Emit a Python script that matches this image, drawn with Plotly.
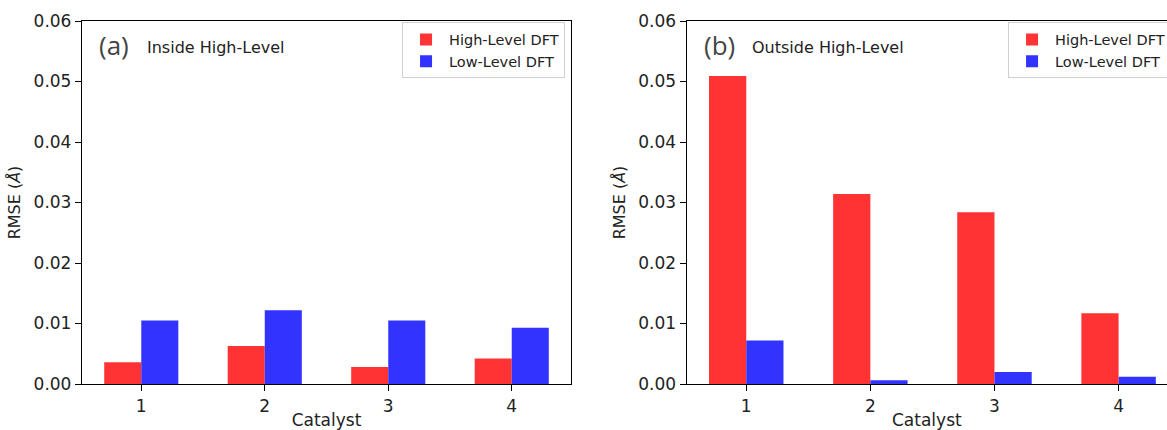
import plotly.graph_objects as go

catalysts = [1, 2, 3, 4]
inside_high = [0.0036, 0.0063, 0.0028, 0.0042]
inside_low = [0.0105, 0.0122, 0.0105, 0.0093]
outside_high = [0.0509, 0.0314, 0.0284, 0.0117]
outside_low = [0.0072, 0.0006, 0.0020, 0.0012]
series_names = ["High-Level DFT", "Low-Level DFT"]
y_ticks = [0.00, 0.01, 0.02, 0.03, 0.04, 0.05, 0.06]

RED = "rgb(255,51,51)"
BLUE = "rgb(51,51,255)"
FONT = "DejaVu Sans"

fig = go.Figure()
for vals, name, col, og in [(inside_high, series_names[0], RED, "h"),
                            (inside_low, series_names[1], BLUE, "l")]:
    fig.add_trace(go.Bar(x=catalysts, y=vals, name=name, marker_color=col,
                         marker_line_width=0, offsetgroup=og,
                         xaxis="x", yaxis="y", legend="legend"))
for vals, name, col, og in [(outside_high, series_names[0], RED, "h"),
                            (outside_low, series_names[1], BLUE, "l")]:
    fig.add_trace(go.Bar(x=catalysts, y=vals, name=name, marker_color=col,
                         marker_line_width=0, offsetgroup=og,
                         xaxis="x2", yaxis="y2", legend="legend2"))

axis_common = dict(showline=True, linecolor="black", linewidth=1.3,
                   ticks="outside", ticklen=6, tickwidth=1.2, tickcolor="black",
                   showgrid=False, zeroline=False, automargin=False,
                   tickfont=dict(family=FONT, size=17, color="#222"))

xa = dict(axis_common, tickvals=catalysts, mirror=True,
          title=dict(text="Catalyst", font=dict(family=FONT, size=17, color="#222"), standoff=7))
ya = dict(axis_common, tickvals=y_ticks, tickformat=".2f", range=[0, 0.06],
          title=dict(text="RMSE (<i>Å</i>)", font=dict(family=FONT, size=16, color="#222"), standoff=8))

leg_common = dict(y=0.996, yanchor="top", bgcolor="white", bordercolor="#d0d0d0",
                  borderwidth=1, itemwidth=36,
                  font=dict(family=FONT, size=14.5, color="#222"), tracegroupgap=0)

fig.update_layout(
    width=1167, height=430,
    margin=dict(l=82, r=0, t=21, b=46, autoexpand=False),
    paper_bgcolor="white", plot_bgcolor="white",
    barmode="group", bargap=0.4, bargroupgap=0,
    xaxis=dict(xa, domain=[0, 0.4507], range=[0.52, 4.48], anchor="y"),
    yaxis=dict(ya, domain=[0, 1], anchor="x", mirror=True),
    xaxis2=dict(xa, domain=[0.5573, 1], range=[0.52, 4.39], anchor="y2"),
    yaxis2=dict(ya, domain=[0, 1], anchor="x2", mirror=False),
    legend=dict(leg_common, x=0.4452, xanchor="right"),
    legend2=dict(leg_common, x=0.8535, xanchor="left"),
    showlegend=True,
)

annots = [
    dict(text="(a)", xref="x", yref="y", x=0.64, y=0.0560, xanchor="left",
         font=dict(family="Open Sans", size=26, color="#444")),
    dict(text="Inside High-Level", xref="x", yref="y", x=1.03, y=0.0556, xanchor="left",
         font=dict(family=FONT, size=16, color="#222")),
    dict(text="(b)", xref="x2", yref="y2", x=0.64, y=0.0560, xanchor="left",
         font=dict(family="Open Sans", size=26, color="#444")),
    dict(text="Outside High-Level", xref="x2", yref="y2", x=1.03, y=0.0556, xanchor="left",
         font=dict(family=FONT, size=16, color="#222")),
]
for a in annots:
    fig.add_annotation(showarrow=False, **a)

fig.write_html("out.html")
